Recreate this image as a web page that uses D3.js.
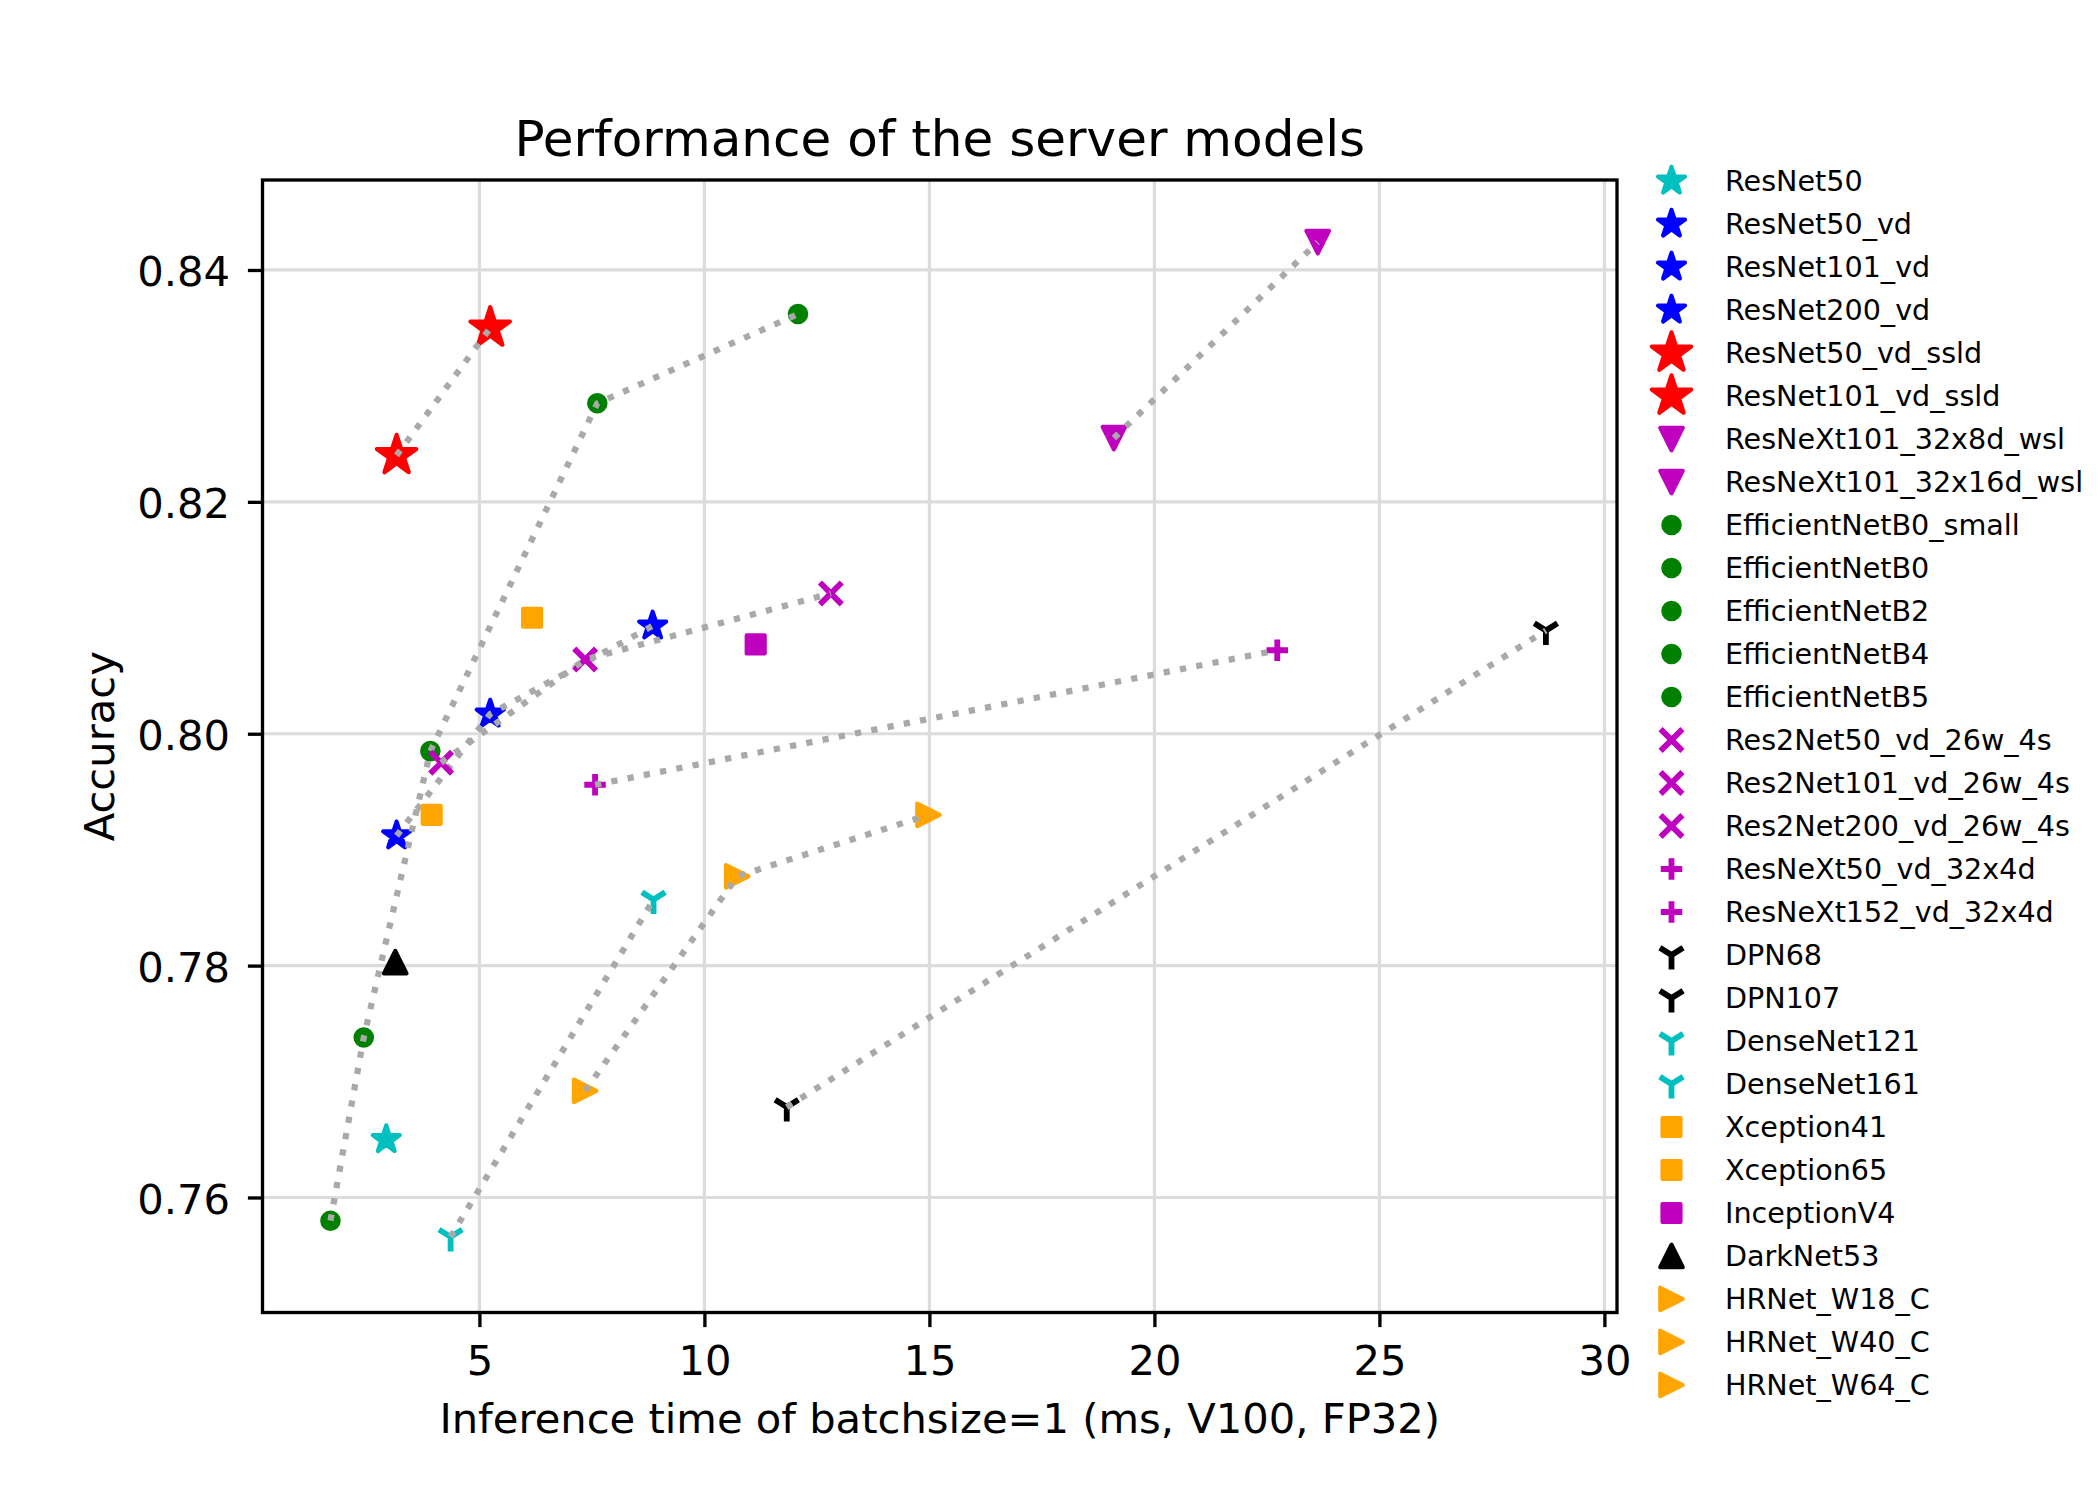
<!DOCTYPE html>
<html>
<head>
<meta charset="utf-8">
<script src="https://cdn.jsdelivr.net/npm/d3@7"></script>
<style>
  html, body { margin: 0; padding: 0; background: #ffffff; }
  svg { display: block; font-family: "DejaVu Sans", sans-serif; }
</style>
</head>
<body>
<svg id="chart" width="2100" height="1500"></svg>
<script>
// ---------------- data ----------------
const modelNames = [
  "ResNet50", "ResNet50_vd", "ResNet101_vd", "ResNet200_vd",
  "ResNet50_vd_ssld", "ResNet101_vd_ssld",
  "ResNeXt101_32x8d_wsl", "ResNeXt101_32x16d_wsl",
  "EfficientNetB0_small", "EfficientNetB0", "EfficientNetB2", "EfficientNetB4", "EfficientNetB5",
  "Res2Net50_vd_26w_4s", "Res2Net101_vd_26w_4s", "Res2Net200_vd_26w_4s",
  "ResNeXt50_vd_32x4d", "ResNeXt152_vd_32x4d",
  "DPN68", "DPN107",
  "DenseNet121", "DenseNet161",
  "Xception41", "Xception65",
  "InceptionV4",
  "DarkNet53",
  "HRNet_W18_C", "HRNet_W40_C", "HRNet_W64_C"
];
const inferenceMs = [
  2.93, 3.16, 5.24, 8.85,
  3.16, 5.24,
  19.10, 23.63,
  1.69, 2.43, 3.91, 7.62, 12.08,
  4.15, 7.35, 12.81,
  7.57, 22.73,
  11.83, 28.70,
  4.36, 8.87,
  3.94, 6.17,
  11.14,
  3.13,
  7.35, 10.73, 14.98
];
const accuracy = [
  0.7650, 0.7912, 0.8017, 0.8093,
  0.8240, 0.8350,
  0.8255, 0.8424,
  0.7580, 0.7738, 0.7985, 0.8285, 0.8362,
  0.7975, 0.8064, 0.8121,
  0.7956, 0.8072,
  0.7678, 0.8089,
  0.7566, 0.7857,
  0.7930, 0.8100,
  0.8077,
  0.7803,
  0.7692, 0.7877, 0.7930
];
const families = ["ResNet", "ResNet_vd", "ResNet_vd_ssld", "ResNeXt_wsl", "EfficientNet",
  "Res2Net", "ResNeXt_vd", "DPN", "DenseNet", "Xception", "InceptionV4", "DarkNet", "HRNet"];
const familyOf = [0, 1, 1, 1, 2, 2, 3, 3, 4, 4, 4, 4, 4, 5, 5, 5, 6, 6, 7, 7, 8, 8, 9, 9, 10, 11, 12, 12, 12];
const connectedFamilies = ["ResNet_vd", "ResNet_vd_ssld", "ResNeXt_wsl", "EfficientNet",
  "Res2Net", "ResNeXt_vd", "DPN", "DenseNet", "HRNet"];
const xTicks = [5, 10, 15, 20, 25, 30];
const yTicks = [0.76, 0.78, 0.80, 0.82, 0.84];
const chartTitle = "Performance of the server models";
const xLabel = "Inference time of batchsize=1 (ms, V100, FP32)";
const yLabel = "Accuracy";

// ---------------- styles ----------------
const familyStyle = {
  "ResNet":         { marker: "star",    color: "#00bfbf" },
  "ResNet_vd":      { marker: "star",    color: "#0000ff" },
  "ResNet_vd_ssld": { marker: "bigstar", color: "#ff0000" },
  "ResNeXt_wsl":    { marker: "tridownFilled", color: "#bf00bf" },
  "EfficientNet":   { marker: "circle",  color: "#008000" },
  "Res2Net":        { marker: "x",       color: "#bf00bf" },
  "ResNeXt_vd":     { marker: "plus",    color: "#bf00bf" },
  "DPN":            { marker: "tri1",    color: "#000000" },
  "DenseNet":       { marker: "tri1",    color: "#00bfbf" },
  "Xception":       { marker: "square",  color: "#ffa500" },
  "InceptionV4":    { marker: "square",  color: "#bf00bf" },
  "DarkNet":        { marker: "triup",   color: "#000000" },
  "HRNet":          { marker: "triright", color: "#ffa500" }
};

// marker geometry (px)
function starPath(R) {
  const pts = [];
  const r = R * 0.381966;
  for (let i = 0; i < 10; i++) {
    const rad = (i % 2 === 0) ? R : r;
    const a = -Math.PI / 2 + i * Math.PI / 5;
    pts.push([rad * Math.cos(a), rad * Math.sin(a)]);
  }
  return "M" + pts.map(p => p[0].toFixed(2) + "," + p[1].toFixed(2)).join("L") + "Z";
}
const markerDefs = {
  star:    { d: starPath(14.2), filled: true },
  bigstar: { d: starPath(20.7), filled: true },
  circle:  { d: "M8.2,0A8.2,8.2 0 1,1 -8.2,0A8.2,8.2 0 1,1 8.2,0Z", filled: true },
  square:  { d: "M-9,-9L9,-9L9,9L-9,9Z", filled: true },
  tridownFilled: { d: "M0,11.25L-11.25,-11.25L11.25,-11.25Z", filled: true },
  triup:   { d: "M0,-11.25L-11.25,11.25L11.25,11.25Z", filled: true },
  triright:{ d: "M11.25,0L-11.25,-11.25L-11.25,11.25Z", filled: true },
  x:       { d: "M-10.9,-10.9L10.9,10.9M-10.9,10.9L10.9,-10.9", filled: false },
  plus:    { d: "M-10.75,0L10.75,0M0,-10.75L0,10.75", filled: false },
  tri1:    { d: "M0,0L0,14.5M0,0L11.6,-7.25M0,0L-11.6,-7.25", filled: false }
};

// ---------------- layout ----------------
const W = 2100, H = 1500;
const plot = { left: 262.5, right: 1617, top: 180, bottom: 1312.5 };
const svg = d3.select("#chart");
svg.append("rect").attr("width", W).attr("height", H).attr("fill", "#ffffff");

const x = d3.scaleLinear().domain([0.18, 30.28]).range([plot.left, plot.right]);
const y = d3.scaleLinear().domain([0.75008, 0.84776]).range([plot.bottom, plot.top]);

const FS = 41.67;

// grid
const grid = svg.append("g").attr("class", "grid");
grid.selectAll("line.gx").data(xTicks).join("line")
  .attr("x1", d => x(d)).attr("x2", d => x(d))
  .attr("y1", plot.top).attr("y2", plot.bottom)
  .attr("stroke", "#dcdcdc").attr("stroke-width", 3.2);
grid.selectAll("line.gy").data(yTicks).join("line")
  .attr("x1", plot.left).attr("x2", plot.right)
  .attr("y1", d => y(d)).attr("y2", d => y(d))
  .attr("stroke", "#dcdcdc").attr("stroke-width", 3.2);

// clip for data
svg.append("clipPath").attr("id", "plotclip").append("rect")
  .attr("x", plot.left).attr("y", plot.top)
  .attr("width", plot.right - plot.left).attr("height", plot.bottom - plot.top);

const dataG = svg.append("g").attr("clip-path", "url(#plotclip)");

function drawMarker(sel, markerName, color) {
  const def = markerDefs[markerName];
  sel.attr("d", def.d)
    .attr("fill", def.filled ? color : "none")
    .attr("stroke", color)
    .attr("stroke-width", def.filled ? 4.17 : 5.8)
    .attr("stroke-linejoin", def.filled ? "round" : "miter")
    .attr("stroke-linecap", "butt");
}

const lineGen = d3.line().x(d => x(inferenceMs[d])).y(d => y(accuracy[d]));

families.forEach((fam, fi) => {
  const idx = modelNames.map((_, i) => i).filter(i => familyOf[i] === fi);
  const st = familyStyle[fam];
  dataG.append("g").selectAll("path").data(idx).join("path")
    .attr("transform", i => `translate(${x(inferenceMs[i])},${y(accuracy[i])})`)
    .call(sel => drawMarker(sel, st.marker, st.color));
  if (connectedFamilies.includes(fam)) {
    dataG.append("path").datum(idx)
      .attr("d", lineGen)
      .attr("fill", "none")
      .attr("stroke", "#a9a9a9")
      .attr("stroke-width", 6.25)
      .attr("stroke-dasharray", "6.25,10.31")
      .attr("stroke-linecap", "butt");
  }
});

// axes
const xAxis = d3.axisBottom(x).tickValues(xTicks).tickFormat(d3.format("d"))
  .tickSize(14.6).tickPadding(18.3);
const yAxis = d3.axisLeft(y).tickValues(yTicks).tickFormat(d3.format(".2f"))
  .tickSize(14.6).tickPadding(17.9);

const gx = svg.append("g").attr("transform", `translate(0,${plot.bottom})`).call(xAxis);
const gy = svg.append("g").attr("transform", `translate(${plot.left},0)`).call(yAxis);
[gx, gy].forEach(g => {
  g.select(".domain").remove();
  g.selectAll(".tick line").attr("stroke", "#000").attr("stroke-width", 3.33);
  g.selectAll(".tick text").attr("fill", "#000")
    .style("font-family", "'DejaVu Sans', sans-serif").style("font-size", FS + "px");
});
gy.selectAll(".tick text").attr("dy", "0.38em");

// spines
svg.append("rect")
  .attr("x", plot.left).attr("y", plot.top)
  .attr("width", plot.right - plot.left).attr("height", plot.bottom - plot.top)
  .attr("fill", "none").attr("stroke", "#000").attr("stroke-width", 3.33)
  .attr("stroke-linejoin", "miter");

// title & labels
const cx = (plot.left + plot.right) / 2;
svg.append("text").attr("x", cx).attr("y", 156).attr("text-anchor", "middle")
  .style("font-size", "50px").attr("fill", "#000").text(chartTitle);
svg.append("text").attr("x", cx).attr("y", 1433).attr("text-anchor", "middle")
  .style("font-size", FS + "px").attr("fill", "#000").text(xLabel);
svg.append("text").attr("transform", `translate(114,${(plot.top + plot.bottom) / 2}) rotate(-90)`)
  .attr("text-anchor", "middle").style("font-size", FS + "px").attr("fill", "#000").text(yLabel);

// legend
const legend = svg.append("g").attr("class", "legend");
const legX = 1671.5, legTextX = 1725, legY0 = 181, legDy = 43.0;
const rows = legend.selectAll("g").data(modelNames.map((_, i) => i)).join("g")
  .attr("transform", i => `translate(0,${legY0 + i * legDy})`);
rows.append("path")
  .attr("transform", `translate(${legX},0)`)
  .each(function (i) {
    const st = familyStyle[families[familyOf[i]]];
    drawMarker(d3.select(this), st.marker, st.color);
  });
rows.append("text").attr("x", legTextX).attr("y", 10)
  .style("font-size", "28.6px").attr("fill", "#000")
  .text(i => modelNames[i]);
</script>
</body>
</html>
